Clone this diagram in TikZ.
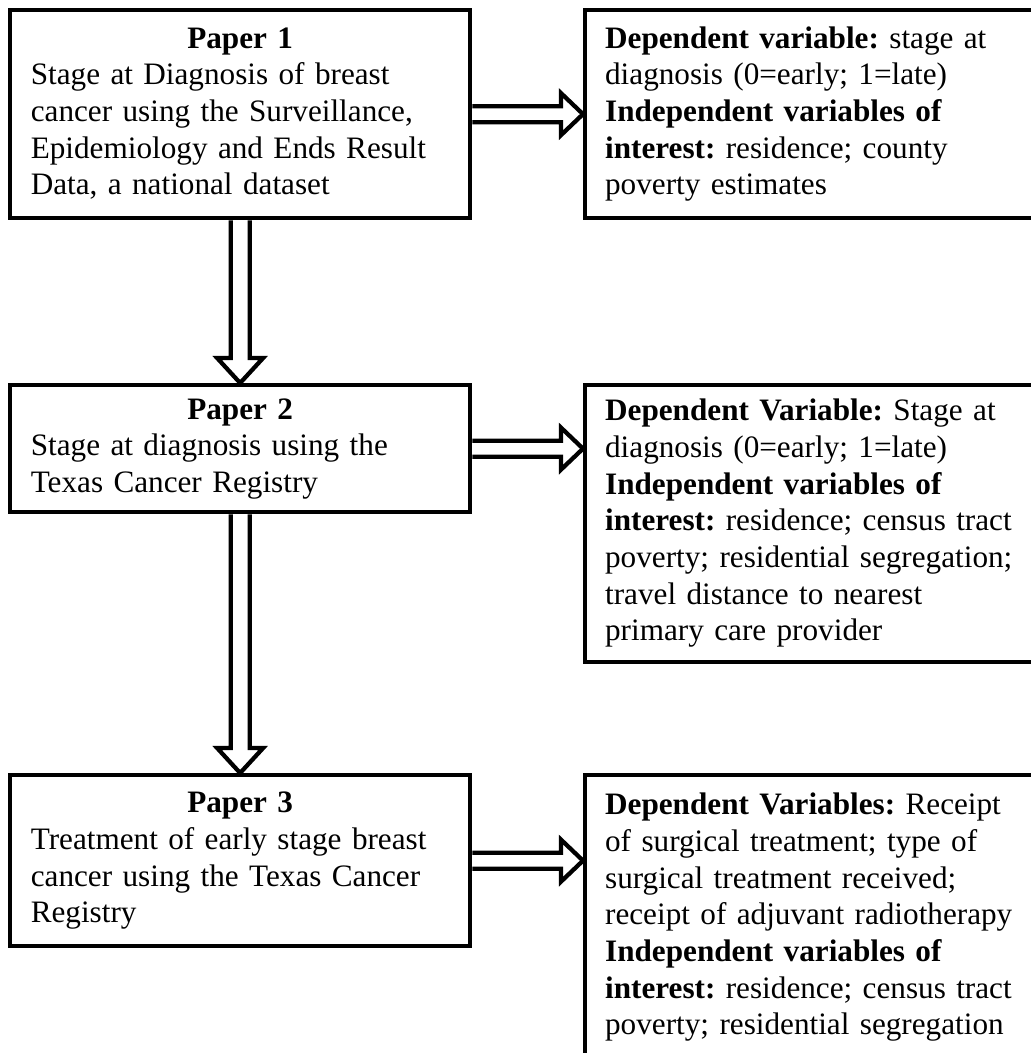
\documentclass[tikz,border=0pt]{standalone}
\usepackage{fontspec}
\setmainfont{Liberation Serif}
\usetikzlibrary{calc}
\newcommand{\boxfont}{\fontsize{23.4}{27.5}\selectfont\frenchspacing\spaceskip=5.85pt\relax}
\tikzset{
  basebox/.style={draw=black, line width=3.2pt, rectangle, anchor=north west,
    inner ysep=0pt, align=left, font=\boxfont},
  paperbox/.style={basebox, inner xsep=15.5pt, text width=314pt},
  varbox/.style={basebox, inner xsep=15pt, text width=323pt},
  blk/.style={draw=black, line width=3.2pt, line join=miter, miter limit=10}
}
\newcommand{\rightblock}[2]{%
  \draw[blk] ($(#1.east)+(0,-8)$) -- ($(#2.west|-#1.east)+(-22,-8)$)
    -- ($(#2.west|-#1.east)+(-22,-21)$) -- (#2.west|-#1.east)
    -- ($(#2.west|-#1.east)+(-22,21)$) -- ($(#2.west|-#1.east)+(-22,8)$)
    -- ($(#1.east)+(0,8)$);}
\newcommand{\downblock}[2]{%
  \draw[blk] ($(#1.south)+(-9.5,0)$) -- ($(#2.north)+(-9.5,-25)$)
    -- ($(#2.north)+(-23,-25)$) -- (#2.north)
    -- ($(#2.north)+(23,-25)$) -- ($(#2.north)+(9.5,-25)$)
    -- ($(#1.south)+(9.5,0)$);}
\begin{document}
\begin{tikzpicture}[x=0.75pt, y=-0.75pt]
\useasboundingbox (0,0) rectangle (1031,1053);
\clip (0,0) rectangle (1031,1053);

\node[paperbox, minimum height=156pt] (p1) at (8,8)
  {\strut\hfill\textbf{Paper 1}\hfill\null\\
   Stage at Diagnosis of breast\\
   cancer using the Surveillance,\\
   Epidemiology and Ends Result\\
   Data, a national dataset\strut};

\node[paperbox, minimum height=95.25pt] (p2) at (8,383)
  {\strut\hfill\textbf{Paper 2}\hfill\null\\
   Stage at diagnosis using the\\
   Texas Cancer Registry\strut};

\node[paperbox, minimum height=128.25pt] (p3) at (8,773)
  {\strut\hfill\textbf{Paper 3}\hfill\null\\
   Treatment of early stage breast\\
   cancer using the Texas Cancer\\
   Registry\strut};

\node[varbox, minimum height=156pt] (r1) at (583,8)
  {\strut\textbf{Dependent variable:} stage at\\
   diagnosis (0=early; 1=late)\\
   \textbf{Independent variables of}\\
   \textbf{interest:} residence; county\\
   poverty estimates\strut};

\node[varbox, minimum height=207.75pt] (r2) at (583,383)
  {\strut\textbf{Dependent Variable:} Stage at\\
   diagnosis (0=early; 1=late)\\
   \textbf{Independent variables of}\\
   \textbf{interest:} residence; census tract\\
   poverty; residential segregation;\\
   travel distance to nearest\\
   primary care provider\strut};

\node[varbox, minimum height=213.75pt] (r3) at (583,773)
  {\strut\textbf{Dependent Variables:} Receipt\\
   of surgical treatment; type of\\
   surgical treatment received;\\
   receipt of adjuvant radiotherapy\\
   \textbf{Independent variables of}\\
   \textbf{interest:} residence; census tract\\
   poverty; residential segregation\strut};

\rightblock{p1}{r1}
\rightblock{p2}{r2}
\rightblock{p3}{r3}
\downblock{p1}{p2}
\downblock{p2}{p3}
\end{tikzpicture}
\end{document}
